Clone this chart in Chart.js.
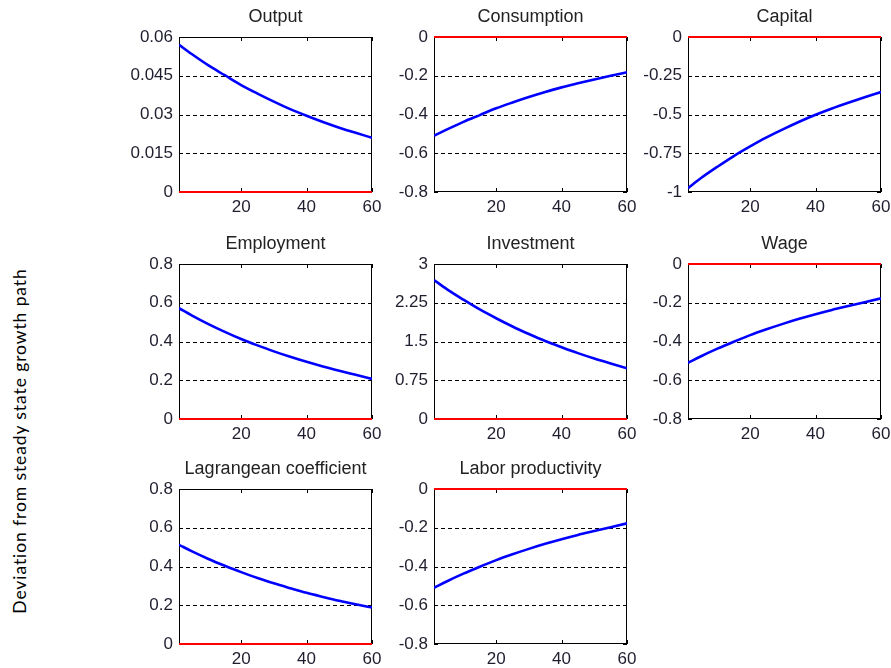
<!DOCTYPE html>
<html>
<head>
<meta charset="utf-8">
<script src="https://cdn.jsdelivr.net/npm/chart.js@4.4.1/dist/chart.umd.min.js"></script>
<style>
  html, body { margin: 0; padding: 0; background: #ffffff; }
  body { width: 891px; height: 668px; position: relative; overflow: hidden; }
  .panel { position: absolute; }
  #ylabel {
    position: absolute; left: 19px; top: 441px;
    transform: translate(-50%, -50%) rotate(-90deg);
    white-space: nowrap; font-family: Lato, "Open Sans", sans-serif; font-size: 17.5px; letter-spacing: 0.9px; color: #000;
  }
</style>
</head>
<body>
<div id="ylabel">Deviation from steady state growth path</div>
<script>
// ---- data ----
const periods = [1, 5, 10, 15, 20, 25, 30, 35, 40, 45, 50, 55, 60];
const xTicks = [20, 40, 60];
const baselineX = [1, 60];
const baselineY = [0, 0];

const output      = [0.057, 0.0533, 0.049, 0.0452, 0.0414, 0.0381, 0.035, 0.0321, 0.0295, 0.0271, 0.0249, 0.0229, 0.021];
const consumption = [-0.51, -0.477, -0.438, -0.403, -0.368, -0.338, -0.310, -0.284, -0.260, -0.239, -0.219, -0.200, -0.182];
const capital     = [-0.975, -0.91, -0.837, -0.768, -0.706, -0.648, -0.596, -0.547, -0.502, -0.461, -0.424, -0.389, -0.355];
const employment  = [0.572, 0.534, 0.490, 0.450, 0.413, 0.380, 0.349, 0.321, 0.295, 0.271, 0.249, 0.228, 0.207];
const investment  = [2.69, 2.51, 2.31, 2.12, 1.95, 1.79, 1.645, 1.51, 1.39, 1.275, 1.17, 1.075, 0.98];
const wage        = [-0.51, -0.476, -0.437, -0.401, -0.367, -0.337, -0.309, -0.283, -0.259, -0.237, -0.217, -0.197, -0.177];
const lagrangean  = [0.512, 0.478, 0.439, 0.404, 0.371, 0.341, 0.313, 0.288, 0.264, 0.243, 0.223, 0.205, 0.188];
const laborProd   = [-0.51, -0.476, -0.437, -0.401, -0.367, -0.337, -0.309, -0.283, -0.259, -0.237, -0.217, -0.197, -0.177];

const ticksOutput = [0, 0.015, 0.03, 0.045, 0.06];
const labelsOutput = ["0", "0.015", "0.03", "0.045", "0.06"];
const ticksNeg08 = [-0.8, -0.6, -0.4, -0.2, 0];
const labelsNeg08 = ["-0.8", "-0.6", "-0.4", "-0.2", "0"];
const ticksNeg1 = [-1, -0.75, -0.5, -0.25, 0];
const labelsNeg1 = ["-1", "-0.75", "-0.5", "-0.25", "0"];
const ticksPos08 = [0, 0.2, 0.4, 0.6, 0.8];
const labelsPos08 = ["0", "0.2", "0.4", "0.6", "0.8"];
const ticksInv = [0, 0.75, 1.5, 2.25, 3];
const labelsInv = ["0", "0.75", "1.5", "2.25", "3"];

const titles = ["Output", "Consumption", "Capital", "Employment", "Investment", "Wage", "Lagrangean coefficient", "Labor productivity"];
const seriesList = [output, consumption, capital, employment, investment, wage, lagrangean, laborProd];
const tickSets = [ticksOutput, ticksNeg08, ticksNeg1, ticksPos08, ticksInv, ticksNeg08, ticksPos08, ticksNeg08];
const labelSets = [labelsOutput, labelsNeg08, labelsNeg1, labelsPos08, labelsInv, labelsNeg08, labelsPos08, labelsNeg08];

// ---- layout ----
const colLeft = [179, 434, 688];
const rowTop = [37, 264, 489];
const plotW = 193, plotH = 155;
const axisW = 60, titleH = 34, xAxisH = 30, rightPad = 12;

const framePlugin = {
  id: 'frame',
  beforeDatasetsDraw(chart) {
    const { ctx, chartArea: { left, right, top, bottom }, scales: { x, y } } = chart;
    const yt = chart.options.plugins.frame.ticks;
    ctx.save();
    ctx.strokeStyle = '#000';
    ctx.lineWidth = 1;
    ctx.setLineDash([4, 3]);
    for (let i = 1; i < yt.length - 1; i++) {
      const py = Math.round(y.getPixelForValue(yt[i])) + 0.5;
      ctx.beginPath(); ctx.moveTo(left, py); ctx.lineTo(right, py); ctx.stroke();
    }
    ctx.setLineDash([]);
    xTicks.forEach(v => {
      const px = Math.round(x.getPixelForValue(v)) + 0.5;
      ctx.beginPath();
      ctx.moveTo(px, bottom); ctx.lineTo(px, bottom - 4);
      ctx.moveTo(px, top); ctx.lineTo(px, top + 4);
      ctx.stroke();
    });
    yt.forEach(v => {
      const py = Math.round(y.getPixelForValue(v)) + 0.5;
      ctx.beginPath();
      ctx.moveTo(left, py); ctx.lineTo(left + 4, py);
      ctx.moveTo(right, py); ctx.lineTo(right - 4, py);
      ctx.stroke();
    });
    ctx.strokeRect(Math.round(left) + 0.5, Math.round(top) + 0.5, Math.round(right - left) - 1, Math.round(bottom - top) - 1);
    ctx.restore();
  },
  afterDraw(chart) {
    const { ctx, chartArea: { left, right, top } } = chart;
    const t = chart.options.plugins.frame.title;
    ctx.save();
    ctx.fillStyle = '#222';
    ctx.font = '18px "Liberation Sans", Arial, sans-serif';
    ctx.textAlign = 'center';
    ctx.textBaseline = 'middle';
    ctx.fillText(t, (left + right) / 2, top - 20);
    ctx.restore();
  }
};

titles.forEach((title, idx) => {
  const r = Math.floor(idx / 3), c = idx % 3;
  const div = document.createElement('div');
  div.className = 'panel';
  const w = axisW + plotW + rightPad, h = titleH + plotH + xAxisH;
  div.style.left = (colLeft[c] - axisW) + 'px';
  div.style.top = (rowTop[r] - titleH) + 'px';
  div.style.width = w + 'px';
  div.style.height = h + 'px';
  const cv = document.createElement('canvas');
  cv.width = w; cv.height = h;
  cv.style.width = w + 'px'; cv.style.height = h + 'px';
  cv.setAttribute('aria-label', title);
  div.appendChild(cv);
  document.body.appendChild(div);

  const series = seriesList[idx];
  const yt = tickSets[idx];
  const yl = labelSets[idx];

  new Chart(cv, {
    type: 'line',
    data: {
      datasets: [
        {
          data: periods.map((p, i) => ({ x: p, y: series[i] })),
          borderColor: '#0000ff',
          borderWidth: 2.6,
          pointRadius: 0,
          cubicInterpolationMode: 'monotone',
          fill: false
        },
        {
          data: baselineX.map((p, i) => ({ x: p, y: baselineY[i] })),
          borderColor: '#ff0000',
          borderWidth: 2,
          pointRadius: 0,
          fill: false,
          clip: false
        }
      ]
    },
    options: {
      responsive: false,
      animation: false,
      devicePixelRatio: 1,
      layout: { padding: { top: titleH, left: 0, right: rightPad, bottom: 0 } },
      plugins: {
        legend: { display: false },
        tooltip: { enabled: false },
        title: { display: false },
        frame: { ticks: yt, title: title }
      },
      scales: {
        x: {
          type: 'linear',
          min: 1, max: 60,
          grid: { display: false, drawTicks: false },
          border: { display: false },
          afterBuildTicks: (s) => { s.ticks = xTicks.map(v => ({ value: v })); },
          afterFit: (s) => { s.height = xAxisH; s.paddingLeft = 0; s.paddingRight = 0; },
          ticks: {
            color: '#1e1e2e',
            padding: 5,
            maxRotation: 0,
            font: { family: '"Liberation Sans", Arial, sans-serif', size: 17 },
            callback: (v) => String(v)
          }
        },
        y: {
          type: 'linear',
          min: yt[0], max: yt[yt.length - 1],
          grid: { display: false, drawTicks: false },
          border: { display: false },
          afterBuildTicks: (s) => { s.ticks = yt.map(v => ({ value: v })); },
          afterFit: (s) => { s.width = axisW; s.paddingTop = 0; s.paddingBottom = 0; },
          ticks: {
            color: '#1e1e2e',
            padding: 6,
            font: { family: '"Liberation Sans", Arial, sans-serif', size: 17 },
            callback: (v) => { const k = yt.indexOf(v); return k >= 0 ? yl[k] : ''; }
          }
        }
      }
    },
    plugins: [framePlugin]
  });
});
</script>
</body>
</html>
